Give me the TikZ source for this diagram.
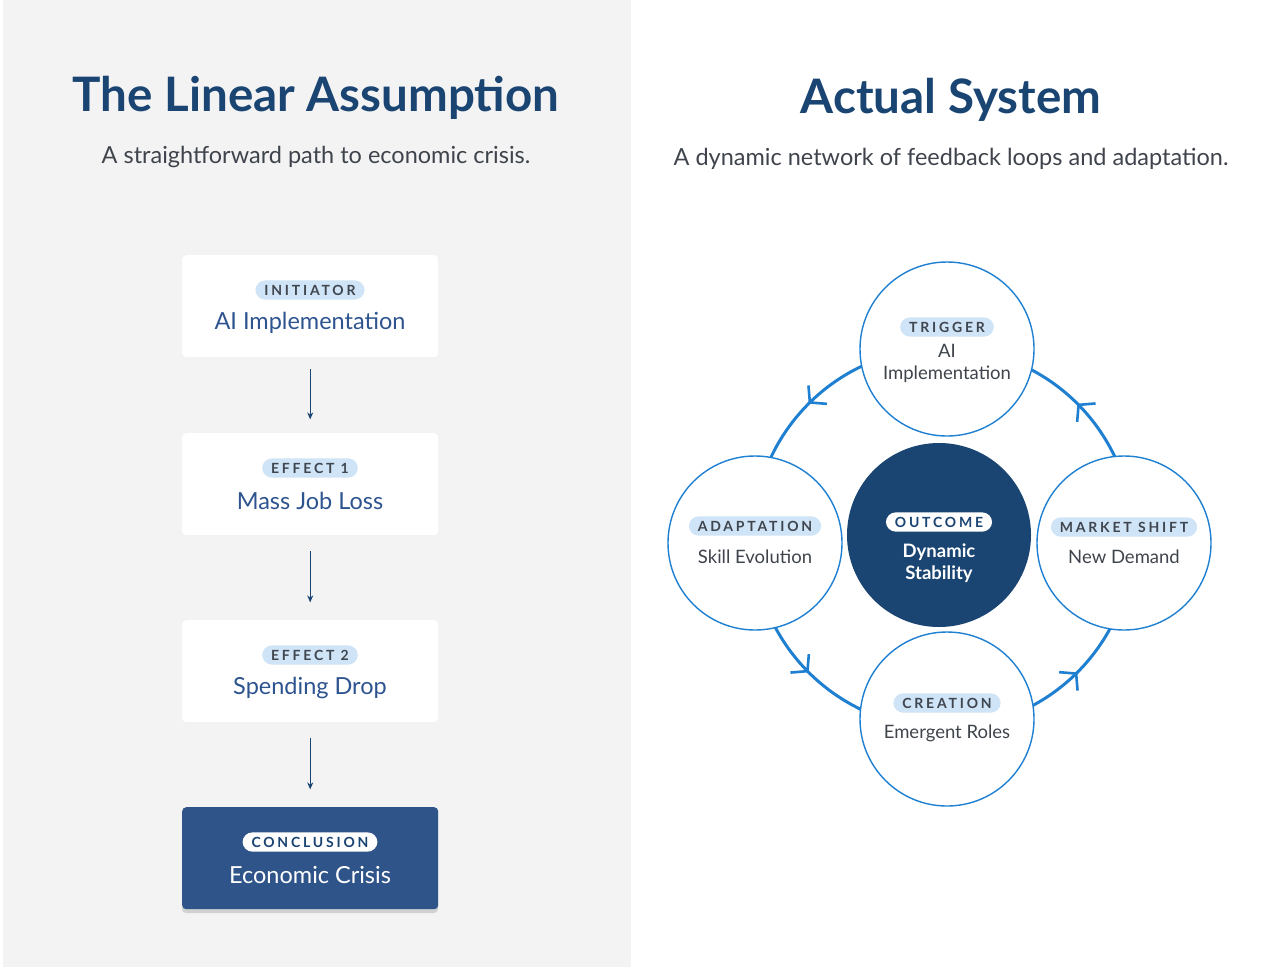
\documentclass[tikz,border=0pt]{standalone}
\usepackage{fontspec}
\setmainfont{Lato}
\usetikzlibrary{arrows.meta,decorations.markings}
\definecolor{navy}{HTML}{1A4472}
\definecolor{boxblue}{HTML}{2F5489}
\definecolor{txtblue}{HTML}{2E5490}
\definecolor{ring}{HTML}{1F80D2}
\definecolor{pill}{HTML}{CFE4F6}
\definecolor{pilltxt}{HTML}{40464F}
\definecolor{panel}{HTML}{F3F3F3}
\definecolor{grey}{HTML}{3F444C}
\tikzset{barb/.tip={Straight Barb[length=11pt,width=26pt,line width=2.6pt]}}
\begin{document}
\begin{tikzpicture}[x=1pt,y=-1pt,
  card/.style={fill=white,rounded corners=4pt,draw=none},
  pilll/.style={fill=pill,rounded corners=10pt,inner xsep=9pt,inner ysep=4.5pt,text=pilltxt,font=\fontsize{14}{15}\selectfont\bfseries\addfontfeatures{LetterSpace=20}},
  main/.style={text=txtblue,font=\fontsize{23.5}{26}\selectfont},
  node circ/.style={circle,draw=ring,line width=1.4pt,fill=white,minimum size=174pt},
  ctext/.style={text=grey,font=\fontsize{18.5}{22}\selectfont,align=center},
  flow/.style={-{Stealth[length=7pt,width=6pt]},line width=1.3pt,draw=navy}]
\useasboundingbox (0,0) rectangle (1276,967);
\fill[white] (0,0) rectangle (1276,967);
\fill[panel] (3,0) rectangle (631,967);
% titles
\node[text=navy,font=\fontsize{47.5}{52}\selectfont\bfseries] (t1) at (316,98) {The Linear Assumption};
\node[text=grey,font=\fontsize{23.5}{26}\selectfont] (s1) at (316,157) {A straightforward path to economic crisis.};
\node[text=navy,font=\fontsize{47.5}{52}\selectfont\bfseries] (t2) at (951,100) {Actual System};
\node[text=grey,font=\fontsize{23.5}{26}\selectfont] (s2) at (951,159) {A dynamic network of feedback loops and adaptation.};
% left cards
\foreach \n/\y in {b1/255,b2/433,b3/620}{
  \fill[black!5] (182,\y+2) [rounded corners=4pt] rectangle ++(256,102);
  \node[card,minimum width=256pt,minimum height=102pt,anchor=north west] (\n) at (182,\y) {};}
\fill[black!18] (182,810) [rounded corners=4pt] rectangle (438,913);
\node[card,fill=boxblue,minimum width=256pt,minimum height=102pt,anchor=north west] (b4) at (182,807) {};
\node[pilll] (p1) at (310,290) {INITIATOR};
\node[main] (m1) at (310,323) {AI Implementation};
\node[pilll] (p2) at (310,468) {EFFECT 1};
\node[main] (m2) at (310,501) {Mass Job Loss};
\node[pilll] (p3) at (310,655) {EFFECT 2};
\node[main] (m3) at (310,688) {Spending Drop};
\node[pilll,fill=white,text=navy] (p4) at (310,842) {CONCLUSION};
\node[main,text=white] (m4) at (310,875) {Economic Crisis};
\draw[flow] ([yshift=-12pt]b1.south) -- ([yshift=-62pt]b1.south);
\draw[flow] ([yshift=-16pt]b2.south) -- ([yshift=-67pt]b2.south);
\draw[flow] ([yshift=-16pt]b3.south) -- ([yshift=-67pt]b3.south);
% ring
\coordinate (C) at (943,538);
\draw[ring,line width=3pt,decoration={markings,
  mark=at position 0.125 with {\arrow{barb}},
  mark=at position 0.375 with {\arrow{barb}},
  mark=at position 0.625 with {\arrow{barb}},
  mark=at position 0.875 with {\arrow{barb}}},postaction=decorate]
  (C) ++(0:190) arc[start angle=360,end angle=0,radius=190];
\node[node circ] (top) at (947,349) {};
\node[node circ] (lft) at (755,543) {};
\node[node circ] (rgt) at (1124,543) {};
\node[node circ] (bot) at (947,719) {};
\node[circle,fill=navy,minimum size=184pt] (mid) at (939,535) {};
\node[pilll] (q1) at (947,327) {TRIGGER};
\node[ctext] (c1) at (947,363) {AI\\Implementation};
\node[pilll] (q2) at (755,526) {ADAPTATION};
\node[ctext] (c2) at (755,557) {Skill Evolution};
\node[pilll] (q3) at (1124,527) {MARKET SHIFT};
\node[ctext] (c3) at (1124,557) {New Demand};
\node[pilll] (q4) at (947,703) {CREATION};
\node[ctext] (c4) at (947,733) {Emergent Roles};
\node[pilll,fill=white,text=navy] (q5) at (939,522) {OUTCOME};
\node[ctext,text=white,font=\fontsize{18.5}{22}\selectfont\bfseries] (c5) at (939,563) {Dynamic\\Stability};
\end{tikzpicture}
\end{document}
